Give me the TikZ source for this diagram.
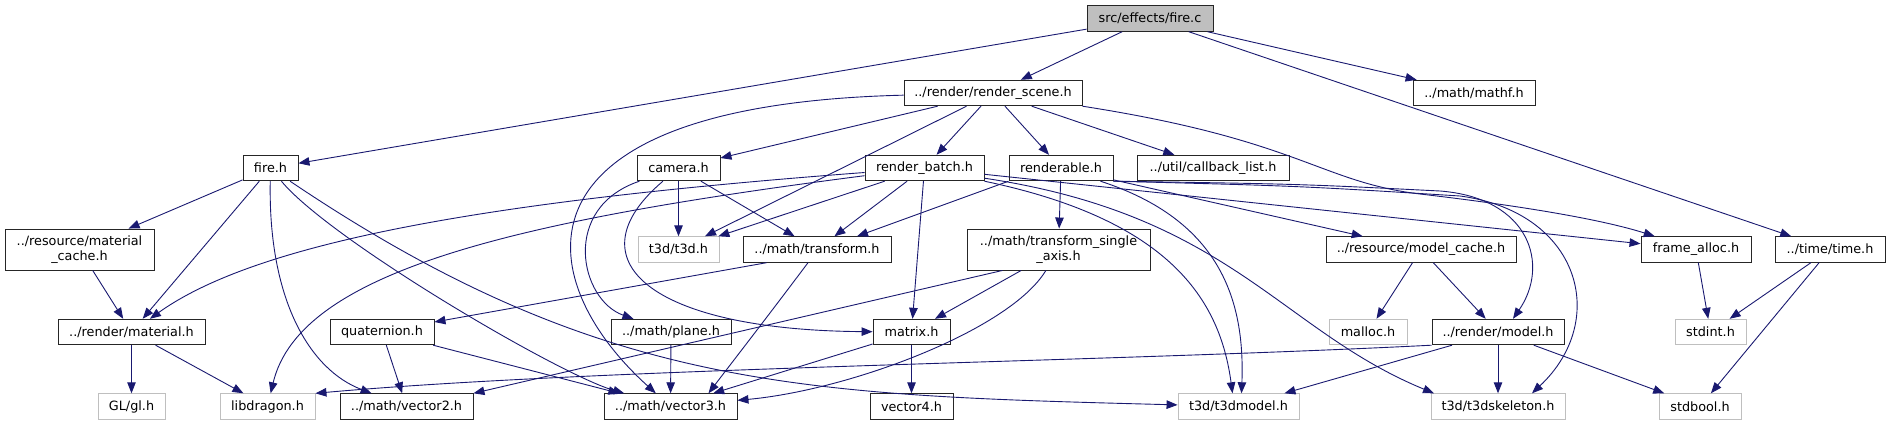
\documentclass[tikz,border=0pt]{standalone}
\usepackage{fontspec}
\setmainfont{DejaVu Sans}
\usetikzlibrary{arrows.meta}
\definecolor{edgeblue}{HTML}{191970}
\definecolor{sysgray}{HTML}{BFBFBF}
\definecolor{rootfill}{HTML}{BFBFBF}

\begin{document}
\begin{tikzpicture}[x=1pt,y=-1pt,
  hdr/.style={draw=black!85,fill=white,line width=0.9pt,inner sep=0pt,
    minimum height=25.5pt,align=center,font=\fontsize{12.8}{15}\selectfont},
  sys/.style={hdr,draw=sysgray},
  tall/.style={minimum height=41pt},
  root/.style={hdr,fill=rootfill},
  dep/.style={draw=edgeblue,line width=0.9pt,-{Triangle[length=11pt,width=8.5pt]}}]
  \useasboundingbox (0,0) rectangle (1895,425);
  % rows of headers, top to bottom
  \node[root,minimum width=126pt] (firec) at (1150,18.5) {src/effects/fire.c};
  \node[hdr,minimum width=178pt] (rscene) at (993,93) {../render/render\_scene.h};
  \node[hdr,minimum width=122pt] (mathf) at (1474,93) {../math/mathf.h};
  \node[hdr,minimum width=55pt] (fireh) at (270.5,168) {fire.h};
  \node[hdr,minimum width=83pt] (camera) at (678.5,168) {camera.h};
  \node[hdr,minimum width=119pt] (rbatch) at (924.5,168) {render\_batch.h};
  \node[hdr,minimum width=104pt] (rable) at (1061,168) {renderable.h};
  \node[hdr,minimum width=152pt] (cblist) at (1213,168) {../util/callback\_list.h};
  \node[hdr,tall,minimum width=149pt] (matcache) at (79.5,249.5) {../resource/material\\\_cache.h};
  \node[sys,minimum width=81pt] (t3d) at (678.5,249.5) {t3d/t3d.h};
  \node[hdr,minimum width=148pt] (transform) at (817,249.5) {../math/transform.h};
  \node[hdr,tall,minimum width=183pt] (tsa) at (1058.5,249.5) {../math/transform\_single\\\_axis.h};
  \node[hdr,minimum width=190pt] (modcache) at (1421,249.5) {../resource/model\_cache.h};
  \node[hdr,minimum width=110pt] (falloc) at (1696,249.5) {frame\_alloc.h};
  \node[hdr,minimum width=110pt] (timeh) at (1830,249.5) {../time/time.h};
  \node[hdr,minimum width=147pt] (material) at (131.5,332) {../render/material.h};
  \node[hdr,minimum width=104pt] (quat) at (382,332) {quaternion.h};
  \node[hdr,minimum width=120pt] (plane) at (671,332) {../math/plane.h};
  \node[hdr,minimum width=77pt] (matrix) at (911.5,332) {matrix.h};
  \node[sys,minimum width=78pt] (malloc) at (1368,332) {malloc.h};
  \node[hdr,minimum width=132pt] (model) at (1498,332) {../render/model.h};
  \node[sys,minimum width=71pt] (stdint) at (1710.5,332) {stdint.h};
  \node[sys,minimum width=67pt] (gl) at (131.5,406.5) {GL/gl.h};
  \node[sys,minimum width=95pt] (libdragon) at (267.5,406.5) {libdragon.h};
  \node[hdr,minimum width=133pt] (vec2) at (406.5,406.5) {../math/vector2.h};
  \node[hdr,minimum width=133pt] (vec3) at (670.5,406.5) {../math/vector3.h};
  \node[hdr,minimum width=83pt] (vec4) at (911.5,406.5) {vector4.h};
  \node[sys,minimum width=121pt] (t3dmodel) at (1238.5,406.5) {t3d/t3dmodel.h};
  \node[sys,minimum width=134pt] (t3dskel) at (1498,406.5) {t3d/t3dskeleton.h};
  \node[sys,minimum width=82pt] (stdbool) at (1700,406.5) {stdbool.h};
  % straight includes
  \foreach \a/\b in {firec/fireh,firec/rscene,firec/mathf,firec/timeh,
    fireh/matcache,fireh/material,matcache/material,material/gl,material/libdragon,
    rscene/camera,rscene/rbatch,rscene/rable,rscene/cblist,rscene/t3d,
    camera/t3d,camera/transform,rbatch/t3d,rbatch/transform,rbatch/matrix,rbatch/falloc,
    rable/tsa,rable/modcache,tsa/matrix,quat/vec2,quat/vec3,plane/vec3,matrix/vec3,matrix/vec4,
    modcache/malloc,modcache/model,falloc/stdint,timeh/stdint,timeh/stdbool,
    model/t3dmodel,model/t3dskel,model/stdbool}
    \draw[dep] (\a) -- (\b);
  \draw[dep] (rable.south west) -- ([xshift=40pt]transform.north);
  \draw[dep] ([xshift=-56pt]tsa.south) -- (vec2.north east);
  \draw[dep] ([xshift=24pt]transform.south west) -- ([yshift=10pt]quat.east);
  % curved includes
  \draw[dep] (fireh) .. controls (268,300) and (310,370) .. (vec2);
  \draw[dep] (fireh) .. controls (330,240) and (560,375) .. (vec3);
  \draw[dep] (fireh) .. controls (600,390) and (800,395) .. (t3dmodel);
  \draw[dep] (rscene) .. controls (500,105) and (530,280) .. (vec3);
  \draw[dep] (camera) .. controls (560,208) and (580,300) .. (plane);
  \draw[dep] (camera) .. controls (570,260) and (650,330) .. (matrix);
  \draw[dep] (rbatch) .. controls (500,200) and (260,240) .. (material);
  \draw[dep] (rbatch) .. controls (520,220) and (300,270) .. (libdragon);
  \draw[dep] (tsa) .. controls (1010,330) and (850,390) .. (vec3);
  \draw[dep] ([xshift=-9pt]transform.south) .. controls (765,320) and (730,365) .. ([xshift=38pt]vec3.north);
  \draw[dep] (model.south west) .. controls (1100,362) and (600,368) .. (libdragon.north east);
  \draw[dep] (rbatch.south east) .. controls (1170,220) and (1220,300) .. ([xshift=-6pt]t3dmodel.north);
  \draw[dep] ([xshift=-13pt]rable.south east) .. controls (1220,220) and (1245,300) .. ([xshift=3pt]t3dmodel.north);
  \draw[dep] ([yshift=3pt]rbatch.south east) .. controls (1230,215) and (1280,330) .. ([xshift=-64pt]t3dskel.north);
  \draw[dep] (rable.south east) .. controls (1300,184) .. (1440,191)
    .. controls (1530,198) and (1550,265) .. ([xshift=15pt]model.north);
  \draw[dep] (rable.south east) .. controls (1300,186) .. (1460,196)
    .. controls (1580,212) and (1610,320) .. ([xshift=34pt]t3dskel.north);
  \draw[dep] (rscene.south east) .. controls (1300,140) and (1320,182) .. (1420,194)
    .. controls (1540,208) and (1610,222) .. (falloc);
\end{tikzpicture}
\end{document}
